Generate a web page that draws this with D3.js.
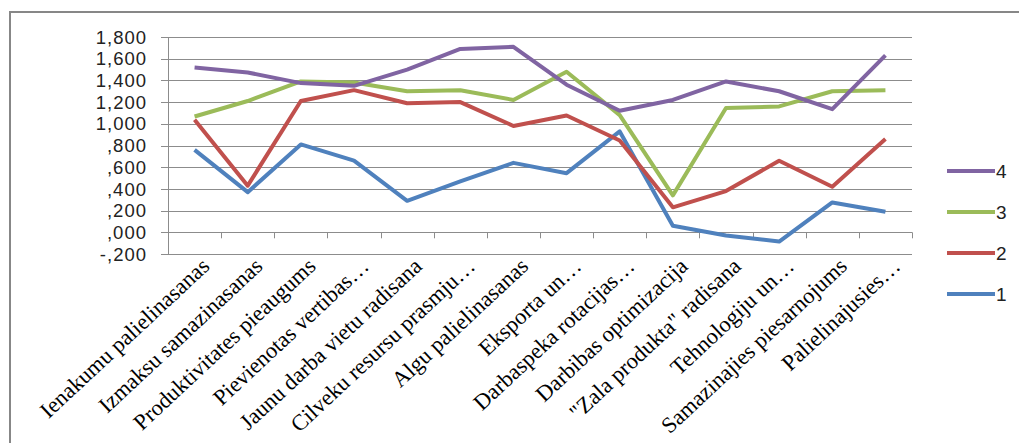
<!DOCTYPE html>
<html>
<head>
<meta charset="utf-8">
<script src="https://cdn.jsdelivr.net/npm/d3@7"></script>
<style>
  body { margin: 0; background: #fff; }
  svg { display: block; }
</style>
</head>
<body>
<svg id="chart" width="1019" height="443"></svg>
<script>
// categories (x axis)
var categories = ["Ienakumu palielinasanas", "Izmaksu samazinasanas", "Produktivitates pieaugums",
    "Pievienotas vertibas\u2026", "Jaunu darba vietu radisana", "Cilveku resursu prasmju\u2026",
    "Algu palielinasanas", "Eksporta un\u2026", "Darbaspeka rotacijas\u2026", "Darbibas optimizacija",
    "\"Zala produkta\" radisana", "Tehnologiju un\u2026", "Samazinajies piesarnojums", "Palielinajusies\u2026"]

var series1 = [0.76, 0.37, 0.81, 0.66, 0.29, 0.47, 0.64, 0.545, 0.93, 0.06, -0.03, -0.085, 0.275, 0.19]
var series2 = [1.037, 0.43, 1.21, 1.31, 1.19, 1.20, 0.98, 1.077, 0.846, 0.23, 0.38, 0.66, 0.42, 0.86]
var series3 = [1.067, 1.21, 1.39, 1.38, 1.30, 1.31, 1.22, 1.48, 1.08, 0.34, 1.145, 1.16, 1.30, 1.31]
var series4 = [1.519, 1.473, 1.375, 1.35, 1.50, 1.69, 1.71, 1.36, 1.12, 1.22, 1.39, 1.30, 1.135, 1.63]

var seriesNames = ["1", "2", "3", "4"]
var yTicks = [-0.2, 0, 0.2, 0.4, 0.6, 0.8, 1.0, 1.2, 1.4, 1.6, 1.8]

var colors = { "1": "#4F81BD", "2": "#C0504D", "3": "#9BBB59", "4": "#8064A2" }

var allSeries = [
    { name: "1", values: series1 },
    { name: "2", values: series2 },
    { name: "3", values: series3 },
    { name: "4", values: series4 }
]

var svg = d3.select("#chart")
var plot = { left: 168, right: 912, top: 37, bottom: 254 }

// outer frame
svg.append("path")
    .attr("d", "M10,443 L10,12 L1019,12")
    .attr("fill", "none")
    .attr("stroke", "#878787")
    .attr("stroke-width", 2)

var x = d3.scaleBand()
    .domain(categories)
    .range([plot.left, plot.right])

var y = d3.scaleLinear()
    .domain([-0.2, 1.8])
    .range([plot.bottom, plot.top])

// "1,800" / ",800" / "-,200" style labels
function fmt(v) {
    var s = d3.format(".3f")(v).replace("\u2212", "-").replace(".", ",")
    return s.replace(/^(-?)0,/, "$1,")
}

// gridlines
svg.append("g")
    .selectAll("line")
    .data(yTicks)
    .join("line")
    .attr("x1", plot.left - 7)
    .attr("x2", plot.right)
    .attr("y1", d => Math.round(y(d)) + 0.5)
    .attr("y2", d => Math.round(y(d)) + 0.5)
    .attr("stroke", "#8c8c8c")
    .attr("stroke-width", 1)

// y axis line
svg.append("line")
    .attr("x1", plot.left + 0.5).attr("x2", plot.left + 0.5)
    .attr("y1", plot.top).attr("y2", plot.bottom)
    .attr("stroke", "#8c8c8c")

// y labels
svg.append("g")
    .selectAll("text")
    .data(yTicks)
    .join("text")
    .attr("x", 147)
    .attr("y", d => y(d))
    .attr("dy", "0.36em")
    .attr("text-anchor", "end")
    .attr("font-family", "'Liberation Sans', Arial, sans-serif")
    .attr("font-size", 18.5)
    .attr("letter-spacing", 1)
    .attr("fill", "#222")
    .text(fmt)

// category ticks hanging from the zero line
var bounds = categories.map(c => x(c)).concat([plot.right])
svg.append("g")
    .selectAll("line")
    .data(bounds)
    .join("line")
    .attr("x1", d => Math.round(d) + 0.5)
    .attr("x2", d => Math.round(d) + 0.5)
    .attr("y1", y(0))
    .attr("y2", y(0) + 6)
    .attr("stroke", "#8c8c8c")

// category labels
svg.append("g")
    .selectAll("text")
    .data(categories)
    .join("text")
    .attr("transform", d => "translate(" + (x(d) + x.bandwidth() / 2 + 7) + "," + (plot.bottom + 4) + ") rotate(-43)")
    .attr("text-anchor", "end")
    .attr("dy", "0.6em")
    .attr("font-family", "'Liberation Serif', 'Times New Roman', serif")
    .attr("font-size", 22.5)
    .attr("fill", "#000")
    .text(d => d)

var line = d3.line()
    .x((d, i) => x(categories[i]) + x.bandwidth() / 2)
    .y(d => y(d))

svg.append("g")
    .selectAll("path")
    .data(allSeries)
    .join("path")
    .attr("d", d => line(d.values))
    .attr("fill", "none")
    .attr("stroke", d => colors[d.name])
    .attr("stroke-width", 4)
    .attr("stroke-linejoin", "round")

// legend (4 on top)
var legend = svg.append("g")
    .selectAll("g")
    .data(seriesNames.slice().reverse())
    .join("g")
    .attr("transform", (d, i) => "translate(947," + (171 + i * 41) + ")")

legend.append("line")
    .attr("x1", 0).attr("x2", 48)
    .attr("stroke", d => colors[d])
    .attr("stroke-width", 4)

legend.append("text")
    .attr("x", 49)
    .attr("dy", "0.36em")
    .attr("font-family", "'Liberation Sans', Arial, sans-serif")
    .attr("font-size", 19)
    .attr("fill", "#222")
    .text(d => d)
</script>
</body>
</html>
